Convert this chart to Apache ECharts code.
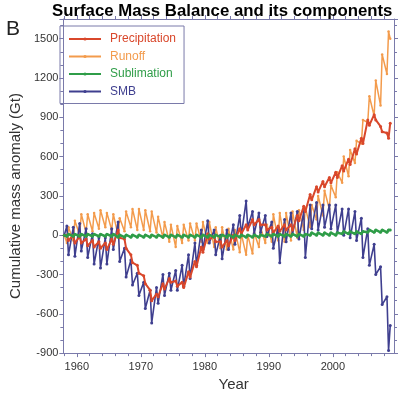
<!DOCTYPE html>
<html>
<head>
<meta charset="utf-8">
<script src="https://cdn.jsdelivr.net/npm/echarts@6/dist/echarts.min.js"></script>
<style>
    html, body { margin: 0; padding: 0; background: #fff; }
    #chart { width: 400px; height: 397px; }
</style>
</head>
<body>
<div id="chart"></div>
<script>
    // years 1958..2008, two readings per year: early summer (June) and end of melt (Sept)
    var years = [];
    for (var y = 1958; y <= 2008; y++) years.push(y);

    // SMB (Gt)
    var smbJune = [70, 60, 90, 50, 10, -20, -20, 50, 100, -100,
        -190, -290, -360, -420, -400, -300, -290, -270, -230, -150,
        -60, 40, 110, 40, 0, 40, 80, 150, 260, 180,
        170, 150, 100, 60, 120, 170, 180, 180, 230, 250,
        230, 230, 230, 200, 200, 180, 130, 50, -70, -240,
        -470];
    var smbSept = [-150, -160, -120, -170, -220, -250, -220, -110, -200, -320,
        -380, -460, -560, -670, -520, -460, -420, -420, -390, -330,
        -230, -110, -60, -150, -180, -110, -70, 0, 60, 10,
        20, -10, -100, -210, -50, 10, -30, -170, 50, 40,
        60, 50, 20, 0, -20, -40, -170, -230, -300, -530,
        -880];
    var smbEnds = [0, -690];

    // Runoff (Gt)
    var runoffJune = [-60, -40, 0, 20, 30, 50, 60, 40, 0, 30,
        60, 40, 40, 30, 20, -20, -50, -90, -60, -40,
        -40, -50, -60, -90, -100, -110, -110, -130, -150, -140,
        -90, -60, -50, -40, -50, -40, -20, 40, 60, 120,
        150, 200, 290, 400, 450, 550, 700, 860, 910, 990,
        1230];
    var runoffSept = [60, 110, 160, 160, 170, 190, 170, 160, 130, 180,
        200, 200, 190, 180, 140, 100, 80, 70, 80, 90,
        90, 100, 100, 60, 60, 50, 40, 10, 0, 20,
        60, 80, 160, 170, 170, 180, 190, 210, 230, 300,
        340, 380, 480, 600, 650, 720, 880, 1060, 1180, 1380,
        1555];
    var runoffEnds = [0, 1500];

    // Precipitation (Gt)
    var precipJune = [0, 0, -10, -30, -40, -50, -60, -30, 40, -30,
        -150, -230, -310, -420, -450, -370, -330, -350, -360, -280,
        -200, -90, 10, -10, -50, -40, 0, 50, 80, 120,
        120, 80, 60, 70, 80, 80, 150, 220, 310, 370,
        410, 440, 480, 530, 580, 660, 740, 880, 920, 830,
        780];
    var precipSept = [-40, -60, -60, -80, -90, -100, -110, -70, -20, -100,
        -210, -290, -370, -500, -470, -410, -360, -390, -400, -320,
        -240, -130, -30, -50, -90, -80, -40, 10, 40, 80,
        80, 40, 20, 30, 40, 40, 110, 180, 270, 330,
        370, 400, 440, 490, 540, 620, 700, 840, 880, 790,
        740];
    var precipEnds = [0, 855];

    // Sublimation (Gt)
    var sublimJune = [-8, -8, -8, -8, -8, -8, -8, -8, -15, -15,
        -15, -15, -15, -15, -15, -15, -15, -15, -15, -15,
        -15, -15, -15, -15, -15, -15, -15, -15, -15, -15,
        -15, -8, -8, -8, -8, -8, -8, -8, 0, 0,
        0, 0, 0, 10, 10, 10, 10, 22, 22, 22,
        22];
    var sublimSept = [8, 8, 8, 8, 8, 8, 8, 8, 2, 2,
        2, 2, 2, 2, 2, 2, 2, 2, 2, 2,
        2, 2, 2, 2, 2, 2, 2, 2, 2, 2,
        2, 8, 8, 8, 8, 8, 8, 8, 18, 18,
        18, 18, 18, 28, 28, 28, 28, 40, 40, 40,
        40];
    var sublimEnds = [0, 40];

    var xLabels = [1960, 1970, 1980, 1990, 2000];
    var xMinor = [];
    for (var m = 1958; m <= 2008; m += 2) if (m % 10 != 0) xMinor.push(m);

    function buildData(ends, june, sept) {
        var data = [[years[0] + 0.04, ends[0]]];
        for (var i = 0; i < years.length; i++) {
            data.push([years[i] + 0.45, june[i]]);
            data.push([years[i] + 0.7, sept[i]]);
        }
        data.push([years[years.length - 1] + 0.96, ends[1]]);
        return data;
    }

    var red = '#d9472b', orange = '#f39b4c', green = '#2f9d48', blue = '#3f3f8f';
    var axisColor = '#7a7aaa';
    var font = 'Liberation Sans, Arial, sans-serif';
    var xMin = 1957.9, xMax = 2009.55;

    function xAx(pos, ticks, len, line, labels) {
        return {
            type: 'value', position: pos, min: xMin, max: xMax,
            axisLine: { show: line, onZero: false, lineStyle: { color: axisColor, width: 1 } },
            axisTick: { show: true, customValues: ticks, length: len, lineStyle: { color: axisColor } },
            axisLabel: labels ? {
                customValues: ticks, color: '#333', fontSize: 11, margin: 8, fontFamily: font,
                formatter: function (v) { return String(v); }
            } : { show: false },
            splitLine: { show: false }
        };
    }
    function yAx(pos, labels) {
        return {
            type: 'value', position: pos, min: -900, max: 1650, interval: 300,
            axisLine: { show: true, onZero: false, lineStyle: { color: axisColor, width: 1 } },
            axisTick: { show: true, length: 4, lineStyle: { color: axisColor } },
            minorTick: { show: true, splitNumber: 3, length: 3, lineStyle: { color: axisColor } },
            axisLabel: labels ? {
                color: '#333', fontSize: 11, margin: 5, fontFamily: font,
                formatter: function (v) { return v % 300 == 0 ? String(v) : ''; }
            } : { show: false },
            splitLine: { show: false }, minorSplitLine: { show: false }
        };
    }

    var xBottom = xAx('bottom', xLabels, 4, true, true);
    xBottom.name = 'Year';
    xBottom.nameLocation = 'middle';
    xBottom.nameGap = 22;
    xBottom.nameTextStyle = { fontSize: 15, color: '#333', fontFamily: font, padding: [0, 0, 0, 10] };
    var yLeft = yAx('left', true);
    yLeft.name = 'Cumulative mass anomaly (Gt)';
    yLeft.nameLocation = 'middle';
    yLeft.nameGap = 31;
    yLeft.nameTextStyle = { fontSize: 15, color: '#333', fontFamily: font, padding: [0, 20, 0, 0] };

    function line(name, color, width, size, data, z) {
        return {
            name: name, type: 'line', data: data, z: z,
            symbol: 'circle', symbolSize: size, showSymbol: true,
            lineStyle: { color: color, width: width }, itemStyle: { color: color }
        };
    }

    var chart = echarts.init(document.getElementById('chart'));
    chart.setOption({
        animation: false,
        backgroundColor: '#fff',
        title: [{
            text: 'Surface Mass Balance and its components', left: 47, top: -2,
            textStyle: { fontSize: 16.8, fontWeight: 'bold', color: '#000', fontFamily: font }
        }, {
            text: 'B', left: 1, top: 14,
            textStyle: { fontSize: 21, fontWeight: 'normal', color: '#222', fontFamily: font }
        }],
        grid: { left: 53, right: 6, top: 19, bottom: 39 },
        legend: {
            orient: 'vertical', left: 60, top: 26, padding: [7, 8, 6, 8], itemGap: 5.5,
            itemWidth: 32, itemHeight: 4, borderColor: axisColor, borderWidth: 1,
            textStyle: { fontSize: 12, fontFamily: font, padding: [0, 0, 0, 4] },
            data: [
                { name: 'Precipitation', textStyle: { color: red } },
                { name: 'Runoff', textStyle: { color: orange } },
                { name: 'Sublimation', textStyle: { color: green } },
                { name: 'SMB', textStyle: { color: blue } }
            ]
        },
        xAxis: [xBottom, xAx('bottom', xMinor, 3, false, false), xAx('top', xLabels, 4, true, false), xAx('top', xMinor, 3, false, false)],
        yAxis: [yLeft, yAx('right', false)],
        series: [
            line('Runoff', orange, 1.5, 2.5, buildData(runoffEnds, runoffJune, runoffSept), 2),
            line('SMB', blue, 1.6, 3, buildData(smbEnds, smbJune, smbSept), 3),
            line('Precipitation', red, 2, 3, buildData(precipEnds, precipJune, precipSept), 4),
            line('Sublimation', green, 2.5, 3, buildData(sublimEnds, sublimJune, sublimSept), 5)
        ]
    });
</script>
</body>
</html>
